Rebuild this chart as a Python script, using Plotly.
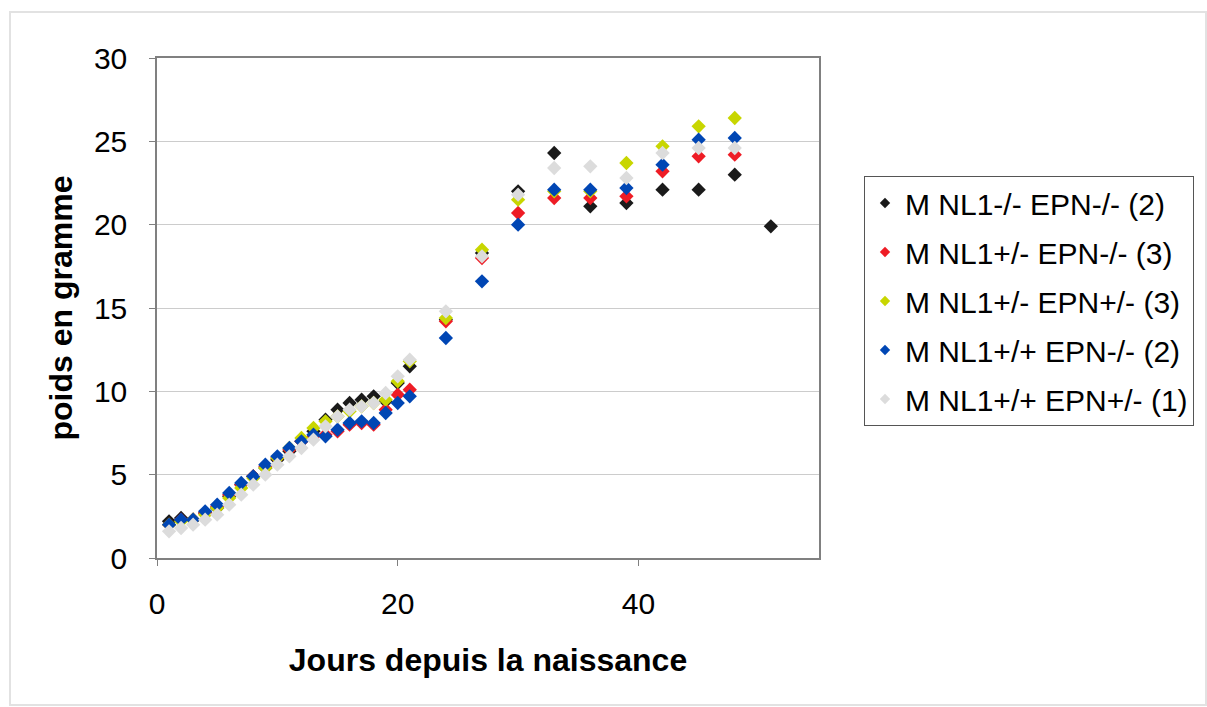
import plotly.graph_objects as go

# ---- data ----
days_daily = list(range(1, 22))
days_late = [24, 27, 30, 33, 36, 39, 42, 45, 48]
days_black = days_daily + days_late + [51]
days_other = days_daily + days_late

black_w = [2.2, 2.4, 2.3, 2.7, 3.0, 3.7, 4.4, 4.9, 5.4, 5.9, 6.4, 7.0, 7.6, 8.3, 8.9, 9.3, 9.5, 9.7, 9.4, 10.5, 11.5,
           14.3, 18.3, 22.0, 24.3, 21.1, 21.3, 22.1, 22.1, 23.0, 19.9]
red_w = [2.0, 2.3, 2.3, 2.7, 3.1, 3.8, 4.4, 4.9, 5.5, 6.0, 6.5, 7.0, 7.3, 7.4, 7.6, 8.0, 8.1, 8.0, 8.9, 9.8, 10.1,
         14.2, 18.0, 20.7, 21.6, 21.6, 21.7, 23.2, 24.1, 24.2]
yellow_w = [2.0, 2.2, 2.3, 2.6, 3.0, 3.6, 4.2, 4.8, 5.4, 6.0, 6.6, 7.2, 7.8, 8.2, 8.5, 8.8, 9.1, 9.3, 9.5, 10.6, 11.8,
            14.4, 18.5, 21.5, 22.0, 22.0, 23.7, 24.7, 25.9, 26.4]
blue_w = [2.0, 2.3, 2.3, 2.8, 3.2, 3.9, 4.5, 4.9, 5.6, 6.1, 6.6, 7.0, 7.4, 7.3, 7.7, 8.1, 8.2, 8.1, 8.7, 9.3, 9.7,
          13.2, 16.6, 20.0, 22.1, 22.1, 22.2, 23.6, 25.1, 25.2]
grey_w = [1.6, 1.8, 2.0, 2.3, 2.6, 3.2, 3.8, 4.4, 5.0, 5.6, 6.1, 6.6, 7.1, 7.9, 8.5, 8.9, 9.1, 9.3, 9.9, 10.9, 11.9,
          14.8, 18.1, 21.8, 23.4, 23.5, 22.8, 24.3, 24.6, 24.6]

series_names = ["M NL1-/- EPN-/- (2)", "M NL1+/- EPN-/- (3)", "M NL1+/- EPN+/- (3)",
                "M NL1+/+ EPN-/- (2)", "M NL1+/+ EPN+/- (1)"]
series_x = [days_black, days_other, days_other, days_other, days_other]
series_y = [black_w, red_w, yellow_w, blue_w, grey_w]
colors = ["#1a1a1a", "#ee1c25", "#c8d600", "#0046b4", "#dcdcdc"]

x_ticks = [0, 20, 40]
y_ticks = [0, 5, 10, 15, 20, 25, 30]

FONT = "Liberation Sans, Arial, sans-serif"

fig = go.Figure()
for name, xs, ys, c in zip(series_names, series_x, series_y, colors):
    fig.add_trace(go.Scatter(x=xs, y=ys, mode="markers", name=name, showlegend=False,
                             marker=dict(symbol="diamond", size=11, color=c, line=dict(width=0))))
# legend entries (smaller markers, as in the reference legend)
for i, (name, c) in enumerate(zip(series_names, colors)):
    fig.add_trace(go.Scatter(x=[None], y=[None], mode="markers", name=name, legendgroup=str(i),
                             marker=dict(symbol="diamond", size=8, color=c, line=dict(width=0))))

L, R, T, B = 157, 819, 58, 558
W, H = 1207, 707
pw, ph = R - L, B - T

def px(xp):
    return (xp - L) / pw

def py(yp):
    return (B - yp) / ph

fig.update_layout(
    width=W, height=H,
    margin=dict(l=L, r=W - R, t=T, b=H - B, pad=0),
    paper_bgcolor="white", plot_bgcolor="white",
    font=dict(family=FONT, size=30, color="#000"),
    showlegend=True,
    legend=dict(x=px(864), y=py(176), xanchor="left", yanchor="top",
                bordercolor="#555", borderwidth=1, bgcolor="white",
                font=dict(family=FONT, size=30, color="#000"),
                tracegroupgap=7, itemsizing="trace"),
    xaxis=dict(range=[0, 55], tickvals=x_ticks, showgrid=False, zeroline=False,
               showline=True, linecolor="#808080", linewidth=1.5, mirror=True,
               ticks="outside", ticklen=6, tickcolor="#808080", ticklabelstandoff=12,
               tickfont=dict(size=30),
               title=dict(text="<b>Jours depuis la naissance</b>", font=dict(size=32), standoff=30)),
    yaxis=dict(range=[0, 30], tickvals=y_ticks, showgrid=True, gridcolor="#cccccc", gridwidth=1,
               zeroline=False, showline=True, linecolor="#808080", linewidth=1.5, mirror=True,
               ticks="outside", ticklen=6, tickcolor="#808080", ticklabelstandoff=16,
               tickfont=dict(size=30),
               title=dict(text="<b>poids en gramme</b>", font=dict(size=32), standoff=12)),
    shapes=[dict(type="rect", xref="paper", yref="paper",
                 x0=px(10), x1=px(1206), y0=py(705), y1=py(12),
                 line=dict(color="#e2e2e2", width=2), fillcolor="rgba(0,0,0,0)", layer="below")],
)

fig.write_html("out.html")
